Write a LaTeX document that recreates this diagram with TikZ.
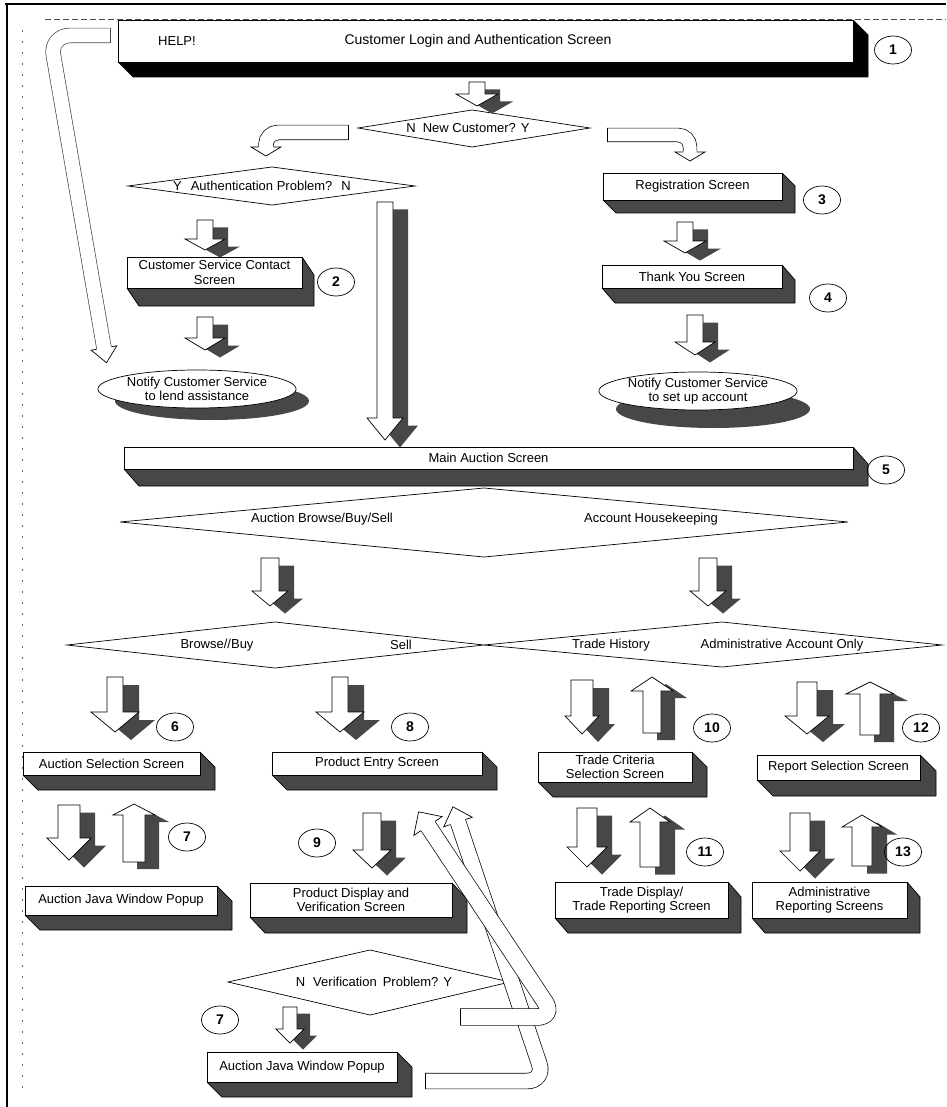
\documentclass[tikz,border=0pt]{standalone}
\usepackage{fontspec}
\setmainfont{Liberation Sans}
\usetikzlibrary{shapes.geometric}
\tikzset{
 outl/.style={draw=black,line width=0.7pt},
 shd/.style={fill=black!72},
 lbl/.style={font=\fontsize{13}{14.5}\selectfont,align=center,inner sep=0pt},
 numc/.style={draw,line width=0.7pt,ellipse,minimum width=37pt,minimum height=28pt,inner sep=0pt,font=\bfseries\fontsize{14}{14}\selectfont},
 hollow/.style={draw=black,line width=0.7pt,double=white,double distance=#1,rounded corners=14pt},
}
% 3D box: name x1 y1 x2 y2 dx dy text
\newcommand\tdbox[8]{%
 \fill[shd] (#2,#5) -- ({#2+#6},{#5+#7}) -- ({#4+#6},{#5+#7}) -- ({#4+#6},{#3+#7}) -- (#4,#3) -- cycle;
 \draw[outl,line join=round] (#2,#5) -- ({#2+#6},{#5+#7}) -- ({#4+#6},{#5+#7}) -- ({#4+#6},{#3+#7}) -- (#4,#3);
 \node[outl,fill=white,lbl,minimum width={(#4-#2)*1pt},minimum height={(#5-#3)*1pt}] (#1) at ({(#2+#4)/2},{(#3+#5)/2}) {#8};
}
% 3D down arrow: cx ytop ytip halfshaft halfhead headlen dx
\newcommand\dnarr[7]{%
 \fill[shd,shift={(#7,{0.5*#7})}] ({#1-#4},#2) -- ({#1+#4},#2) -- ({#1+#4},{#3-#6}) -- ({#1+#5},{#3-#6}) -- (#1,#3) -- ({#1-#5},{#3-#6}) -- ({#1-#4},{#3-#6}) -- cycle;
 \draw[outl,fill=white] ({#1-#4},#2) -- ({#1+#4},#2) -- ({#1+#4},{#3-#6}) -- ({#1+#5},{#3-#6}) -- (#1,#3) -- ({#1-#5},{#3-#6}) -- ({#1-#4},{#3-#6}) -- cycle;
}
% 3D up arrow: cx ytip ybot halfshaft halfhead headlen dx
\newcommand\uparr[7]{%
 \fill[shd,shift={(#7,{0.5*#7})}] (#1,#2) -- ({#1+#5},{#2+#6}) -- ({#1+#4},{#2+#6}) -- ({#1+#4},#3) -- ({#1-#4},#3) -- ({#1-#4},{#2+#6}) -- ({#1-#5},{#2+#6}) -- cycle;
 \draw[outl,fill=white] (#1,#2) -- ({#1+#5},{#2+#6}) -- ({#1+#4},{#2+#6}) -- ({#1+#4},#3) -- ({#1-#4},#3) -- ({#1-#4},{#2+#6}) -- ({#1-#5},{#2+#6}) -- cycle;
}
% hollow arrow head: x y angle halfshaft halfhead headlen
\newcommand\arrhead[6]{%
 \begin{scope}[shift={(#1,#2)},rotate=#3]
  \fill[white] (-0.8,{-#4+0.5}) -- (0,{-#4}) -- (0,{-#5}) -- (#6,0) -- (0,#5) -- (0,#4) -- (-0.8,{#4-0.5}) -- cycle;
  \draw[outl,line join=miter] (0,{-#4}) -- (0,{-#5}) -- (#6,0) -- (0,#5) -- (0,#4);
 \end{scope}
}
\begin{document}
\begin{tikzpicture}[x=1pt,y=-1pt]
\useasboundingbox (0,0) rectangle (946,1107);
\fill[white] (0,0) rectangle (946,1107);
% frame
\draw[line width=2.4pt] (5,4) -- (946,4);
\draw[line width=1.6pt] (7,3) -- (7,1107);
\draw[black!70,line width=0.6pt,dash pattern=on 6pt off 3pt] (45,19.5) -- (946,19.5);
\draw[black!60,line width=0.8pt,dash pattern=on 2pt off 9pt] (22,30) -- (22,1095);

% top box
\begin{scope}[shd/.style={fill=black}]
\tdbox{b1}{118}{20}{853}{62}{15}{15}{}
\end{scope}
\node[lbl,anchor=west] (help) at (158,41) {HELP!};
\node[lbl,font=\fontsize{14}{15}\selectfont] (t1) at (478,41) {Customer Login and Authentication Screen};
\node[numc] (c1) at (893,50) {1};

% help arrow
\draw[hollow=14pt,draw=black!70,rounded corners=20pt] (110,35.5) -- (50,35.5) -- (104,348);
\draw[black!70,line width=0.7pt] (110,28.1) -- (110,42.9);
\arrhead{104}{348}{-80.2}{7.4}{13}{15}

% decision: new customer
\draw[outl,fill=white] (358,128) -- (472,110) -- (590,128) -- (472,147) -- cycle;
\node[lbl] (d1) at (468,128) {N\hspace{7pt}New Customer?\hspace{5pt}Y};
\dnarr{477}{82}{106}{8}{21}{12}{15}

% bent arrows
\draw[hollow=14pt,rounded corners=12pt] (348,132.5) -- (266,132.5) -- (266,147);
\draw[outl] (348,125.1) -- (348,139.9);
\arrhead{266}{147}{-90}{7.4}{15}{9}
\draw[hollow=13pt,rounded corners=12pt] (607,135) -- (690,135) -- (690,152);
\draw[outl] (607,128.1) -- (607,141.9);
\arrhead{690}{152}{-90}{6.9}{15}{9}

% authentication decision
\draw[outl,fill=white] (128,186) -- (272,167) -- (415,186) -- (272,205) -- cycle;
\node[lbl] (d2) at (262,186) {Y\hspace{9pt}Authentication Problem?\hspace{9pt}N};

% left column
\dnarr{205}{220}{250}{8}{20}{11}{15}
\tdbox{b2}{127}{257}{302}{288}{12}{18}{Customer Service Contact\\Screen}
\node[numc] (c2) at (336,282) {2};
\dnarr{205}{317}{350}{8}{20}{12}{15}
\fill[shd] (212,401) ellipse [x radius=97,y radius=19];
\node[ellipse,outl,fill=white,lbl,minimum width=194pt,minimum height=38pt] (e1) at (197,389) {Notify Customer Service\\to lend assistance};

% long arrow
\dnarr{385}{202}{440}{8}{18}{22}{15}

% right column
\tdbox{b3}{603}{173}{782}{200}{13}{13}{Registration Screen}
\node[numc] (c3) at (822,200) {3};
\dnarr{685}{222}{253}{8}{21}{12}{15}
\tdbox{b4}{602}{265}{782}{288}{13}{15}{Thank You Screen}
\node[numc] (c4) at (828,298) {4};
\dnarr{695}{315}{355}{8}{20}{13}{15}
\fill[shd] (713,409) ellipse [x radius=97,y radius=19];
\node[ellipse,outl,fill=white,lbl,minimum width=194pt,minimum height=38pt] (e2) at (698,391) {Notify Customer Service\\to set up account};

% main auction
\tdbox{b5}{124}{447}{853}{469}{15}{17}{Main Auction Screen}
\node[numc] (c5) at (886,470) {5};
\draw[outl,fill=white] (120,522) -- (484,488) -- (848,522) -- (484,557) -- cycle;
\node[lbl] (d3a) at (322,519) {Auction Browse/Buy/Sell};
\node[lbl] (d3b) at (651,519) {Account Housekeeping};
\dnarr{270}{558}{606}{9}{18}{15}{15}
\dnarr{708}{558}{606}{9}{18}{15}{15}

% second level decisions
\draw[outl,fill=white] (67,645) -- (275,622) -- (484,645) -- (275,668) -- cycle;
\node[lbl] (d4a) at (217,645) {Browse//Buy};
\node[lbl] (d4b) at (401,645) {Sell};
\draw[outl,fill=white] (484,645) -- (722,622) -- (942,645) -- (722,667) -- cycle;
\node[lbl] (d5a) at (611,645) {Trade History};
\node[lbl] (d5b) at (782,645) {Administrative Account Only};

% arrows row 1
\dnarr{115}{677}{732}{8}{24}{20}{16}
\node[numc] (c6) at (175,727) {6};
\dnarr{340}{677}{732}{8}{24}{20}{16}
\node[numc] (c8) at (410,727) {8};
\dnarr{582}{680}{734}{11}{17}{18}{16}
\uparr{652}{677}{733}{9}{21}{14}{14}
\node[numc] (c10) at (712,728) {10};
\dnarr{807}{682}{734}{10}{22}{18}{16}
\uparr{870}{682}{735}{10}{24}{12}{14}
\node[numc] (c12) at (921,728) {12};

% boxes row 1
\tdbox{b6}{23}{752}{200}{775}{15}{15}{Auction Selection Screen}
\tdbox{b7}{272}{752}{482}{775}{15}{15}{Product Entry Screen}
\tdbox{b8}{538}{752}{692}{782}{15}{15}{Trade Criteria\\Selection Screen}
\tdbox{b9}{757}{755}{920}{780}{16}{16}{Report Selection Screen}

% arrows row 2
\dnarr{69}{805}{860}{11}{22}{22}{15}
\uparr{134}{804}{862}{11}{21}{11}{14}
\node[numc] (c7a) at (187,837) {7};
\node[numc] (c9) at (317,843) {9};
\dnarr{372}{813}{868}{9}{19}{18}{15}
\dnarr{587}{808}{867}{10}{20}{20}{15}
\uparr{650}{808}{867}{10}{20}{14}{15}
\node[numc] (c11) at (705,852) {11};
\dnarr{800}{813}{871}{10}{20}{20}{15}
\uparr{862}{815}{866}{10}{20}{12}{15}
\node[numc] (c13) at (903,852) {13};

% boxes row 2
\tdbox{b10}{25}{886}{217}{915}{15}{15}{Auction Java Window Popup}
\tdbox{b11}{250}{883}{452}{917}{15}{16}{Product Display and\\Verification Screen}
\tdbox{b12}{555}{882}{728}{918}{13}{15}{Trade Display/\\Trade Reporting Screen}
\tdbox{b13}{752}{882}{907}{918}{13}{15}{Administrative\\Reporting Screens}

% verification
\draw[outl,fill=white] (228,982) -- (370,950) -- (510,982) -- (370,1015) -- cycle;
\node[lbl] (d6) at (374,982) {N\hspace{8pt}Verification\hspace{6pt}Problem?\hspace{5pt}Y};
\node[numc] (c7b) at (220,1020) {7};
\dnarr{290}{1007}{1043}{7}{14}{14}{13}
\tdbox{b14}{207}{1052}{397}{1082}{15}{15}{Auction Java Window Popup}

% return arrows
\draw[hollow=15pt,rounded corners=18pt] (425,1081) -- (545,1081) -- (458,822);
\draw[outl] (425,1073.1) -- (425,1088.9);
\arrhead{458}{822}{108.6}{7.9}{15}{16}
\draw[hollow=16pt,rounded corners=18pt] (460,1017) -- (555,1017) -- (428,826);
\draw[outl] (460,1008.6) -- (460,1025.4);
\arrhead{428}{826}{123.6}{8.4}{17}{17}
\end{tikzpicture}
\end{document}
